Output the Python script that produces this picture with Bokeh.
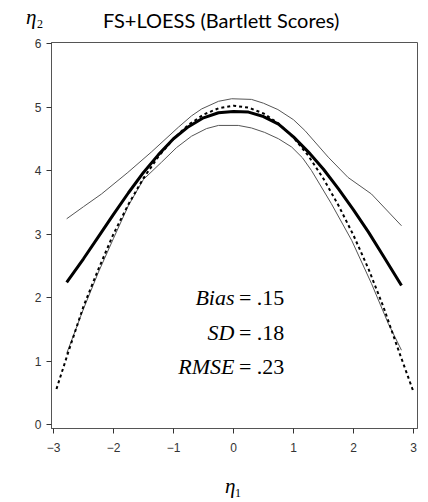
from bokeh.plotting import figure
from bokeh.models import Range1d, FixedTicker, Label, Div
from bokeh.layouts import column
from bokeh.embed import file_html
from bokeh.resources import INLINE

# ---------------- data ----------------
title_text = "FS+LOESS (Bartlett Scores)"
x_symbol = ("\u03b7", "1")
y_symbol = ("\u03b7", "2")
x_ticks = [-3, -2, -1, 0, 1, 2, 3]
x_tick_labels = ["\u22123", "\u22122", "\u22121", "0", "1", "2", "3"]
y_ticks = [0, 1, 2, 3, 4, 5, 6]
y_tick_labels = ["0", "1", "2", "3", "4", "5", "6"]

# true function (dashed)
true_x = [-2.95, -2.75, -2.5, -2.25, -2.0, -1.75, -1.5, -1.25, -1.0, -0.75, -0.5, -0.25,
          0.0, 0.25, 0.5, 0.75, 1.0, 1.25, 1.5, 1.75, 2.0, 2.25, 2.5, 2.75, 2.99]
true_y = [0.56, 1.15, 1.86, 2.45, 3.0, 3.47, 3.88, 4.22, 4.5, 4.72, 4.88, 4.98,
          5.02, 4.99, 4.9, 4.74, 4.52, 4.23, 3.87, 3.45, 2.98, 2.45, 1.85, 1.17, 0.54]

# LOESS mean estimate (thick)
est_x = [-2.78, -2.5, -2.25, -2.0, -1.75, -1.5, -1.25, -1.0, -0.75, -0.5, -0.25, 0.0,
         0.25, 0.5, 0.75, 1.0, 1.25, 1.5, 1.75, 2.0, 2.25, 2.5, 2.8]
est_y = [2.24, 2.61, 2.96, 3.31, 3.65, 3.97, 4.25, 4.5, 4.69, 4.83, 4.91, 4.93,
         4.92, 4.85, 4.73, 4.53, 4.29, 4.02, 3.71, 3.38, 3.03, 2.65, 2.19]

# upper band (thin)
up_x = [-2.78, -2.5, -2.2, -1.76, -1.37, -0.92, -0.7, -0.53, -0.25, -0.03, 0.3, 0.5,
        0.74, 1.0, 1.19, 1.58, 1.91, 2.3, 2.8]
up_y = [3.24, 3.43, 3.63, 3.97, 4.29, 4.68, 4.86, 4.97, 5.09, 5.13, 5.12, 5.06,
        4.96, 4.8, 4.63, 4.21, 3.89, 3.63, 3.13]

# lower band (thin)
lo_x = [-2.78, -2.5, -2.25, -2.0, -1.75, -1.5, -1.2, -0.95, -0.7, -0.45, -0.25, 0.08,
        0.3, 0.52, 0.75, 0.97, 1.15, 1.3, 1.63, 1.97, 2.3, 2.58, 2.8]
lo_y = [1.12, 1.82, 2.4, 2.93, 3.45, 3.86, 4.13, 4.36, 4.54, 4.66, 4.71, 4.71,
        4.67, 4.6, 4.5, 4.37, 4.2, 4.0, 3.48, 2.9, 2.22, 1.59, 1.17]

stat_names = ["Bias", "SD", "RMSE"]
stat_values = [".15", ".18", ".23"]

# ---------------- figure ----------------
p = figure(width=428, height=426, output_backend="svg", toolbar_location=None,
           title=None,
           x_range=Range1d(-3.033, 3.067), y_range=Range1d(-0.063, 6.016),
           min_border_left=51, min_border_right=11, min_border_top=8,
           min_border_bottom=32, margin=(0, 0, 0, 0))
p.background_fill_color = "white"
p.border_fill_color = "white"
p.xgrid.visible = False
p.ygrid.visible = False
p.outline_line_color = "#555555"
p.outline_line_width = 1

p.xaxis.ticker = FixedTicker(ticks=x_ticks)
p.yaxis.ticker = FixedTicker(ticks=y_ticks)
p.xaxis.major_label_overrides = dict(zip(x_ticks, x_tick_labels))
p.yaxis.major_label_overrides = dict(zip(y_ticks, y_tick_labels))
for ax in (p.xaxis, p.yaxis):
    ax.minor_tick_line_color = None
    ax.major_tick_in = 0
    ax.major_tick_out = 5
    ax.axis_line_color = "#555555"
    ax.major_tick_line_color = "#333333"
    ax.major_label_text_font = "Liberation Sans"
    ax.major_label_text_font_size = "12px"
    ax.major_label_text_color = "#333333"
p.xaxis.major_label_standoff = 9
p.yaxis.major_label_standoff = 5

p.line(up_x, up_y, line_color="#555555", line_width=1)
p.line(lo_x, lo_y, line_color="#555555", line_width=1)
p.line(est_x, est_y, line_color="black", line_width=3)
p.line(true_x, true_y, line_color="black", line_width=2, line_dash="3 3")

# statistics annotation
row_y = [2.0, 1.45, 0.91]
for name, val, yy in zip(stat_names, stat_values, row_y):
    p.add_layout(Label(x=0.017, y=yy, text=name, text_align="right",
                       text_baseline="alphabetic", text_font="Liberation Serif",
                       text_font_style="italic", text_font_size="22px",
                       text_color="black"))
    p.add_layout(Label(x=0.09, y=yy, text="= " + val, text_align="left",
                       text_baseline="alphabetic", text_font="Liberation Serif",
                       text_font_size="22px", text_color="black"))

# ---------------- title row and x-symbol row (HTML text) ----------------
serif = "'Liberation Serif', 'Times New Roman', serif"
top_html = (
    '<div style="position:relative;width:428px;height:34px;margin:0;padding:0;">'
    f'<span style="position:absolute;left:26px;top:7px;font-family:{serif};'
    f'font-style:italic;font-size:21px;line-height:20px;white-space:nowrap;color:black;">{y_symbol[0]}</span>'
    f'<span style="position:absolute;left:37px;top:18px;font-family:{serif};'
    f'font-size:12px;line-height:12px;color:black;">{y_symbol[1]}</span>'
    f'<span style="position:absolute;left:103px;top:10px;font-family:Lato, sans-serif;'
    f'font-size:20px;line-height:20px;white-space:nowrap;color:black;">{title_text}</span>'
    '</div>'
)
bottom_html = (
    '<div style="position:relative;width:428px;height:42px;margin:0;padding:0;">'
    f'<span style="position:absolute;left:225px;top:16px;font-family:{serif};'
    f'font-style:italic;font-size:21px;line-height:20px;color:black;">{x_symbol[0]}</span>'
    f'<span style="position:absolute;left:235px;top:27px;font-family:{serif};'
    f'font-size:12px;line-height:12px;color:black;">{x_symbol[1]}</span>'
    '</div>'
)
top_div = Div(text=top_html, width=428, height=34, margin=(0, 0, 0, 0))
bottom_div = Div(text=bottom_html, width=428, height=42, margin=(0, 0, 0, 0))

layout = column(top_div, p, bottom_div, spacing=0, margin=(0, 0, 0, 0))
open("out.html", "w").write(file_html(layout, INLINE))
